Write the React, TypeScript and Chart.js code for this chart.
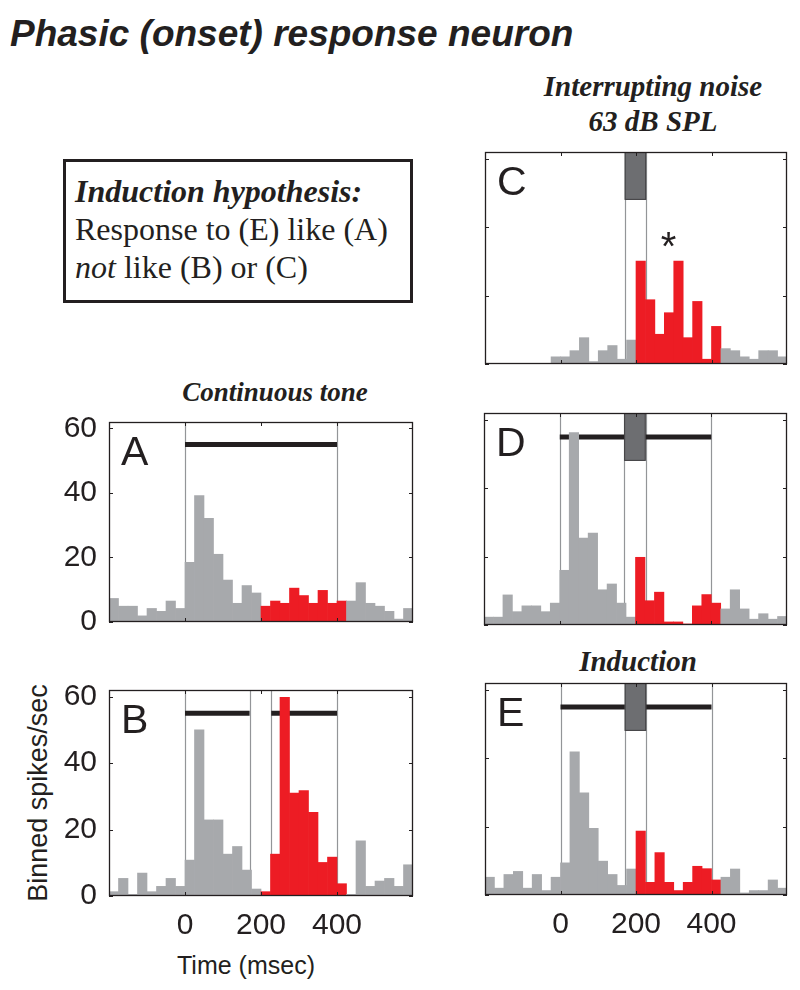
import React, { useEffect, useRef } from "react";
import { Chart, registerables } from "chart.js";

Chart.register(...registerables);

// ---- Data ----
const BIN_CENTERS = [
  -187.5, -162.5, -137.5, -112.5, -87.5, -62.5, -37.5, -12.5,
  12.5, 37.5, 62.5, 87.5, 112.5, 137.5, 162.5, 187.5,
  212.5, 237.5, 262.5, 287.5, 312.5, 337.5, 362.5, 387.5,
  412.5, 437.5, 462.5, 487.5, 512.5, 537.5, 562.5, 587.5,
];
const RATE_A = [7.3, 4.9, 4.9, 1.9, 4.2, 3.3, 6.5, 4.2, 18.5, 39.2, 32.1, 21, 13, 5.8, 11.3, 9, 4.9, 6.5, 5.8, 10.5, 8.2, 5.8, 9.8, 5.8, 6.5, 6.5, 12.2, 5.8, 4.9, 3.3, 0.9, 4.2];
const RATE_B = [1.3, 5.3, 0.5, 6.9, 1.3, 2.9, 5.3, 2.9, 10.8, 50, 22.9, 22.9, 12.6, 14.9, 7.8, 2.1, 1.3, 12.6, 59.8, 31, 31.7, 25.2, 10.1, 11.7, 3.7, 0.5, 16.6, 2.9, 4.5, 5.3, 2.9, 9.4];
const RATE_C = [0, 0, 0, 0, 0, 0, 0, 2.1, 2.1, 3.9, 7.7, 0.7, 3.9, 5.4, 1.4, 7, 30.1, 18.8, 8.7, 15, 30.1, 7.7, 18.3, 1.4, 11, 4.5, 3.9, 2.1, 1.4, 3.9, 3.9, 2.1];
const RATE_D = [2.3, 2.3, 8.8, 3.9, 5.6, 5.6, 3.9, 6.4, 16, 56.3, 25.4, 26.9, 10.3, 12, 6.4, 2.3, 19.8, 7.1, 9.6, 0.9, 0.9, 0.3, 5.6, 8.9, 6.4, 4.7, 10.3, 4.7, 1.7, 3.3, 1.7, 2.5];
const RATE_E = [5.2, 2, 6, 6.9, 2, 6, 1.3, 5.2, 9.4, 41.9, 29.9, 19.5, 9.9, 6, 2.8, 7.6, 18.7, 3.7, 12.4, 3.7, 1.3, 3.7, 8.4, 7.7, 4.4, 5.2, 7.6, 0.6, 1.3, 1.3, 4.4, 2];

const X_MIN = -200;
const X_MAX = 600;
const Y_MAX = 62;
const X_TICKS = [0, 200, 400];
const Y_TICKS = [0, 20, 40, 60];
const RED_START = 200;
const RED_END = 425;
const STIM_LEVEL = 55;
const NOISE_WINDOW = [170, 227];
const NOISE_BOTTOM = 48;
const STIM_A = [[0, 400]];
const STIM_B = [[0, 170], [227, 400]];
const STIM_D = [[0, 400]];
const STIM_E = [[0, 400]];
const LINES_A = [0, 400];
const LINES_B = [0, 170, 227, 400];
const LINES_C = [170, 227];
const LINES_D = [0, 170, 227, 400];
const LINES_E = [0, 170, 227, 400];
const STAR_C = { x: 286, y: 37 };

const GRAY = "#a7a9ac";
const RED = "#ed1c24";
const INK = "#231f20";

type Area = { left: number; top: number; width: number; height: number };
type PanelCfg = {
  letter: string;
  values: number[];
  stim: number[][];
  lines: number[];
  noise: boolean;
  star?: { x: number; y: number };
  area: Area;
  showY: boolean;
  showX: boolean;
};

const PANELS: PanelCfg[] = [
  { letter: "A", values: RATE_A, stim: STIM_A, lines: LINES_A, noise: false, area: { left: 109, top: 416, width: 304, height: 212 }, showY: true, showX: false },
  { letter: "B", values: RATE_B, stim: STIM_B, lines: LINES_B, noise: false, area: { left: 109, top: 684, width: 304, height: 212 }, showY: true, showX: true },
  { letter: "C", values: RATE_C, stim: [], lines: LINES_C, noise: true, star: STAR_C, area: { left: 485, top: 152, width: 302, height: 212 }, showY: false, showX: false },
  { letter: "D", values: RATE_D, stim: STIM_D, lines: LINES_D, noise: true, area: { left: 484, top: 413, width: 303, height: 212 }, showY: false, showX: false },
  { letter: "E", values: RATE_E, stim: STIM_E, lines: LINES_E, noise: true, area: { left: 485, top: 683, width: 302, height: 212 }, showY: false, showX: true },
];

function makeOverlay(cfg: PanelCfg) {
  return {
    id: "overlay" + cfg.letter,
    beforeDatasetsDraw(chart: any) {
      const { ctx, chartArea: ca, scales } = chart;
      const x = scales.x;
      const y = scales.y;
      ctx.save();
      ctx.strokeStyle = "#939598";
      ctx.lineWidth = 1.2;
      for (const v of cfg.lines) {
        const px = Math.round(x.getPixelForValue(v)) + 0.5;
        ctx.beginPath();
        ctx.moveTo(px, ca.top);
        ctx.lineTo(px, ca.bottom);
        ctx.stroke();
      }
      ctx.strokeStyle = INK;
      ctx.lineWidth = 5;
      ctx.lineCap = "butt";
      for (const seg of cfg.stim) {
        const py = y.getPixelForValue(STIM_LEVEL);
        ctx.beginPath();
        ctx.moveTo(x.getPixelForValue(seg[0]), py);
        ctx.lineTo(x.getPixelForValue(seg[1]), py);
        ctx.stroke();
      }
      if (cfg.noise) {
        const x0 = x.getPixelForValue(NOISE_WINDOW[0]);
        const x1 = x.getPixelForValue(NOISE_WINDOW[1]);
        const y0 = y.getPixelForValue(Y_MAX);
        const y1 = y.getPixelForValue(NOISE_BOTTOM);
        ctx.fillStyle = "#6d6e71";
        ctx.fillRect(x0, y0, x1 - x0, y1 - y0);
        ctx.strokeStyle = "#414042";
        ctx.lineWidth = 1;
        ctx.strokeRect(x0 + 0.5, y0 + 0.5, x1 - x0 - 1, y1 - y0 - 1);
      }
      ctx.restore();
    },
    afterDraw(chart: any) {
      const { ctx, chartArea: ca, scales } = chart;
      const x = scales.x;
      const y = scales.y;
      ctx.save();
      ctx.strokeStyle = INK;
      ctx.lineWidth = 1.3;
      ctx.strokeRect(ca.left + 0.5, ca.top + 0.5, ca.right - ca.left - 1, ca.bottom - ca.top - 1);
      const tl = 4;
      ctx.lineWidth = 1;
      ctx.beginPath();
      for (const v of Y_TICKS) {
        const py = Math.round(y.getPixelForValue(v)) + 0.5;
        ctx.moveTo(ca.left, py);
        ctx.lineTo(ca.left + tl, py);
        ctx.moveTo(ca.right, py);
        ctx.lineTo(ca.right - tl, py);
      }
      for (const v of X_TICKS) {
        const px = Math.round(x.getPixelForValue(v)) + 0.5;
        ctx.moveTo(px, ca.top);
        ctx.lineTo(px, ca.top + tl);
        ctx.moveTo(px, ca.bottom);
        ctx.lineTo(px, ca.bottom - tl);
      }
      ctx.stroke();
      ctx.fillStyle = INK;
      ctx.font = "41px 'Liberation Sans', Arial, sans-serif";
      ctx.textBaseline = "alphabetic";
      ctx.textAlign = "left";
      ctx.fillText(cfg.letter, ca.left + 12, ca.top + 43);
      if (cfg.star) {
        ctx.font = "40px 'Liberation Sans', Arial, sans-serif";
        ctx.textAlign = "center";
        ctx.fillText("*", x.getPixelForValue(cfg.star.x), y.getPixelForValue(cfg.star.y) + 23);
      }
      ctx.restore();
    },
  };
}

function Panel({ cfg }: { cfg: PanelCfg }) {
  const ref = useRef<HTMLCanvasElement | null>(null);
  const padL = cfg.showY ? cfg.area.left : 10;
  const padR = 10;
  const padT = 24;
  const padB = cfg.showX ? 60 : 24;
  const cw = cfg.area.width + padL + padR;
  const ch = cfg.area.height + padT + padB;

  useEffect(() => {
    if (!ref.current) return;
    const tickFont = { family: "'Liberation Sans', Arial, sans-serif", size: 30 };
    const chart = new Chart(ref.current, {
      type: "bar",
      data: {
        datasets: [
          {
            data: BIN_CENTERS.map((c, i) => ({ x: c, y: cfg.values[i] })),
            backgroundColor: (ctx: any) => {
              const c = BIN_CENTERS[ctx.dataIndex];
              return c > RED_START && c < RED_END ? RED : GRAY;
            },
            borderWidth: 0,
            barPercentage: 1,
            categoryPercentage: 1,
          } as any,
        ],
      },
      options: {
        animation: false,
        responsive: false,
        devicePixelRatio: 1,
        layout: { padding: { left: 0, right: padR, top: padT, bottom: 0 } },
        plugins: { legend: { display: false }, tooltip: { enabled: false } },
        scales: {
          x: {
            type: "linear",
            min: X_MIN,
            max: X_MAX,
            offset: false,
            grid: { display: false, drawTicks: false, offset: false },
            border: { display: false },
            ticks: { display: cfg.showX, font: tickFont, color: INK, padding: 12, maxRotation: 0 },
            afterBuildTicks: (s: any) => {
              s.ticks = X_TICKS.map((v) => ({ value: v }));
            },
            afterFit: (s: any) => {
              s.height = padB;
            },
          },
          y: {
            type: "linear",
            min: 0,
            max: Y_MAX,
            grid: { display: false, drawTicks: false },
            border: { display: false },
            ticks: { display: cfg.showY, font: tickFont, color: INK, padding: 12 },
            afterBuildTicks: (s: any) => {
              s.ticks = Y_TICKS.map((v) => ({ value: v }));
            },
            afterFit: (s: any) => {
              s.width = padL;
            },
          },
        },
      } as any,
      plugins: [makeOverlay(cfg)],
    });
    return () => chart.destroy();
  }, []);

  return (
    <canvas
      ref={ref}
      width={cw}
      height={ch}
      style={{
        position: "absolute",
        left: cfg.area.left - padL,
        top: cfg.area.top - padT,
        width: cw,
        height: ch,
      }}
    />
  );
}

const SANS = "'Liberation Sans', Arial, sans-serif";
const SERIF = "'Liberation Serif', 'Times New Roman', serif";

function Txt(props: {
  x: number;
  baseline: number;
  size: number;
  serif?: boolean;
  bold?: boolean;
  italic?: boolean;
  center?: boolean;
  children: React.ReactNode;
}) {
  const k = props.serif ? 0.8375 : 0.8465;
  return (
    <div
      style={{
        position: "absolute",
        left: props.x,
        top: props.baseline - props.size * k,
        fontFamily: props.serif ? SERIF : SANS,
        fontSize: props.size,
        lineHeight: `${props.size}px`,
        fontWeight: props.bold ? 700 : 400,
        fontStyle: props.italic ? "italic" : "normal",
        whiteSpace: "nowrap",
        color: INK,
        transform: props.center ? "translateX(-50%)" : undefined,
      }}
    >
      {props.children}
    </div>
  );
}

export default function App() {
  return (
    <div style={{ position: "absolute", left: 0, top: 0, width: 800, height: 990, background: "#fff", overflow: "hidden" }}>
      <Txt x={10} baseline={46} size={37} bold italic>
        Phasic (onset) response neuron
      </Txt>
      <Txt x={653} baseline={96} size={29} serif bold italic center>
        Interrupting noise
      </Txt>
      <Txt x={653} baseline={131} size={29} serif bold italic center>
        63 dB SPL
      </Txt>
      <Txt x={275} baseline={402} size={27} serif bold italic center>
        Continuous tone
      </Txt>
      <Txt x={638} baseline={671} size={29} serif bold italic center>
        Induction
      </Txt>
      <div
        style={{
          position: "absolute",
          left: 63,
          top: 159,
          width: 350,
          height: 144,
          border: `3px solid ${INK}`,
          boxSizing: "border-box",
        }}
      />
      <Txt x={75} baseline={202} size={32} serif bold italic>
        Induction hypothesis:
      </Txt>
      <Txt x={75} baseline={240} size={32} serif>
        Response to (E) like (A)
      </Txt>
      <Txt x={75} baseline={278} size={32} serif>
        <i>not</i> like (B) or (C)
      </Txt>
      <div
        style={{
          position: "absolute",
          left: 38,
          top: 793,
          transform: "translate(-50%, -50%) rotate(-90deg)",
          fontFamily: SANS,
          fontSize: 27,
          lineHeight: "27px",
          whiteSpace: "nowrap",
          color: INK,
        }}
      >
        Binned spikes/sec
      </div>
      <div
        style={{
          position: "absolute",
          left: 246,
          top: 965,
          transform: "translate(-50%, -50%)",
          fontFamily: SANS,
          fontSize: 25,
          lineHeight: "25px",
          whiteSpace: "nowrap",
          color: INK,
        }}
      >
        Time (msec)
      </div>
      {PANELS.map((p) => (
        <Panel key={p.letter} cfg={p} />
      ))}
    </div>
  );
}
